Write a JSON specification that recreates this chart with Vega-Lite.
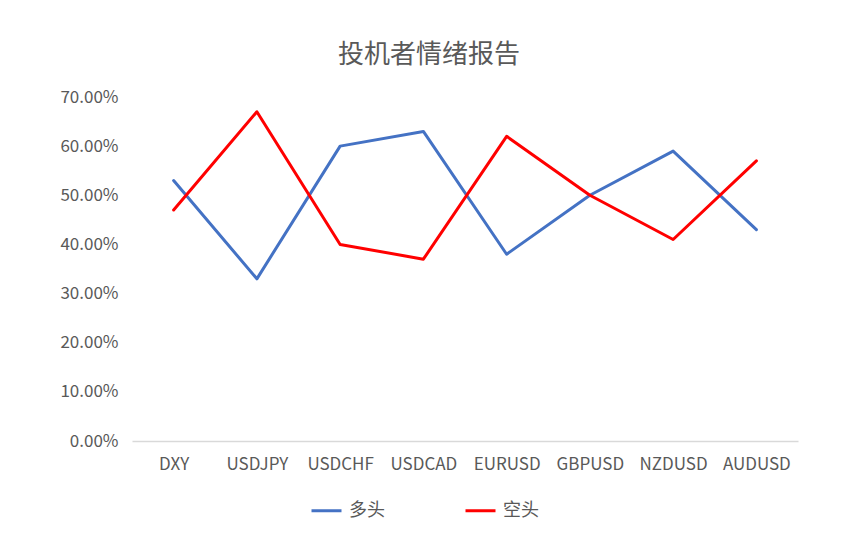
{
  "$schema": "https://vega.github.io/schema/vega-lite/v6.json",
  "autosize": "none",
  "width": 666,
  "height": 344,
  "padding": {"left": 132, "top": 97, "right": 49, "bottom": 94},
  "background": "white",
  "title": {
    "text": "投机者情绪报告",
    "font": "Noto Sans CJK SC",
    "fontSize": 26,
    "fontWeight": "normal",
    "color": "#595959",
    "anchor": "middle",
    "frame": "bounds",
    "offset": 20
  },
  "config": {
    "view": {"stroke": null},
    "font": "Noto Sans CJK SC"
  },
  "data": {
    "values": [
      {"pair": "DXY", "side": "多头", "value": 0.53},
      {"pair": "USDJPY", "side": "多头", "value": 0.33},
      {"pair": "USDCHF", "side": "多头", "value": 0.60},
      {"pair": "USDCAD", "side": "多头", "value": 0.63},
      {"pair": "EURUSD", "side": "多头", "value": 0.38},
      {"pair": "GBPUSD", "side": "多头", "value": 0.50},
      {"pair": "NZDUSD", "side": "多头", "value": 0.59},
      {"pair": "AUDUSD", "side": "多头", "value": 0.43},
      {"pair": "DXY", "side": "空头", "value": 0.47},
      {"pair": "USDJPY", "side": "空头", "value": 0.67},
      {"pair": "USDCHF", "side": "空头", "value": 0.40},
      {"pair": "USDCAD", "side": "空头", "value": 0.37},
      {"pair": "EURUSD", "side": "空头", "value": 0.62},
      {"pair": "GBPUSD", "side": "空头", "value": 0.50},
      {"pair": "NZDUSD", "side": "空头", "value": 0.41},
      {"pair": "AUDUSD", "side": "空头", "value": 0.57}
    ]
  },
  "mark": {"type": "line", "strokeWidth": 3, "strokeCap": "round", "strokeJoin": "round"},
  "encoding": {
    "x": {
      "field": "pair",
      "type": "nominal",
      "sort": null,
      "scale": {"type": "point", "padding": 0.5},
      "axis": {
        "title": null,
        "labelAngle": 0,
        "labelFontSize": 17,
        "labelColor": "#595959",
        "labelPadding": 15,
        "ticks": false,
        "domainColor": "#d9d9d9",
        "domainWidth": 1.5,
        "grid": false
      }
    },
    "y": {
      "field": "value",
      "type": "quantitative",
      "scale": {"domain": [0, 0.7], "nice": false},
      "axis": {
        "title": null,
        "format": ".2%",
        "values": [0, 0.1, 0.2, 0.3, 0.4, 0.5, 0.6, 0.7],
        "labelFontSize": 17,
        "labelColor": "#595959",
        "labelPadding": 14,
        "ticks": false,
        "domain": false,
        "grid": false
      }
    },
    "color": {
      "field": "side",
      "type": "nominal",
      "sort": ["多头", "空头"],
      "scale": {"domain": ["多头", "空头"], "range": ["#4472C4", "#FF0000"]},
      "legend": {
        "title": null,
        "orient": "none",
        "legendX": 178,
        "legendY": 397,
        "direction": "horizontal",
        "symbolType": "stroke",
        "symbolSize": 900,
        "symbolStrokeWidth": 3,
        "labelFontSize": 18,
        "labelColor": "#595959",
        "labelOffset": 6,
        "columnPadding": 74
      }
    }
  }
}
